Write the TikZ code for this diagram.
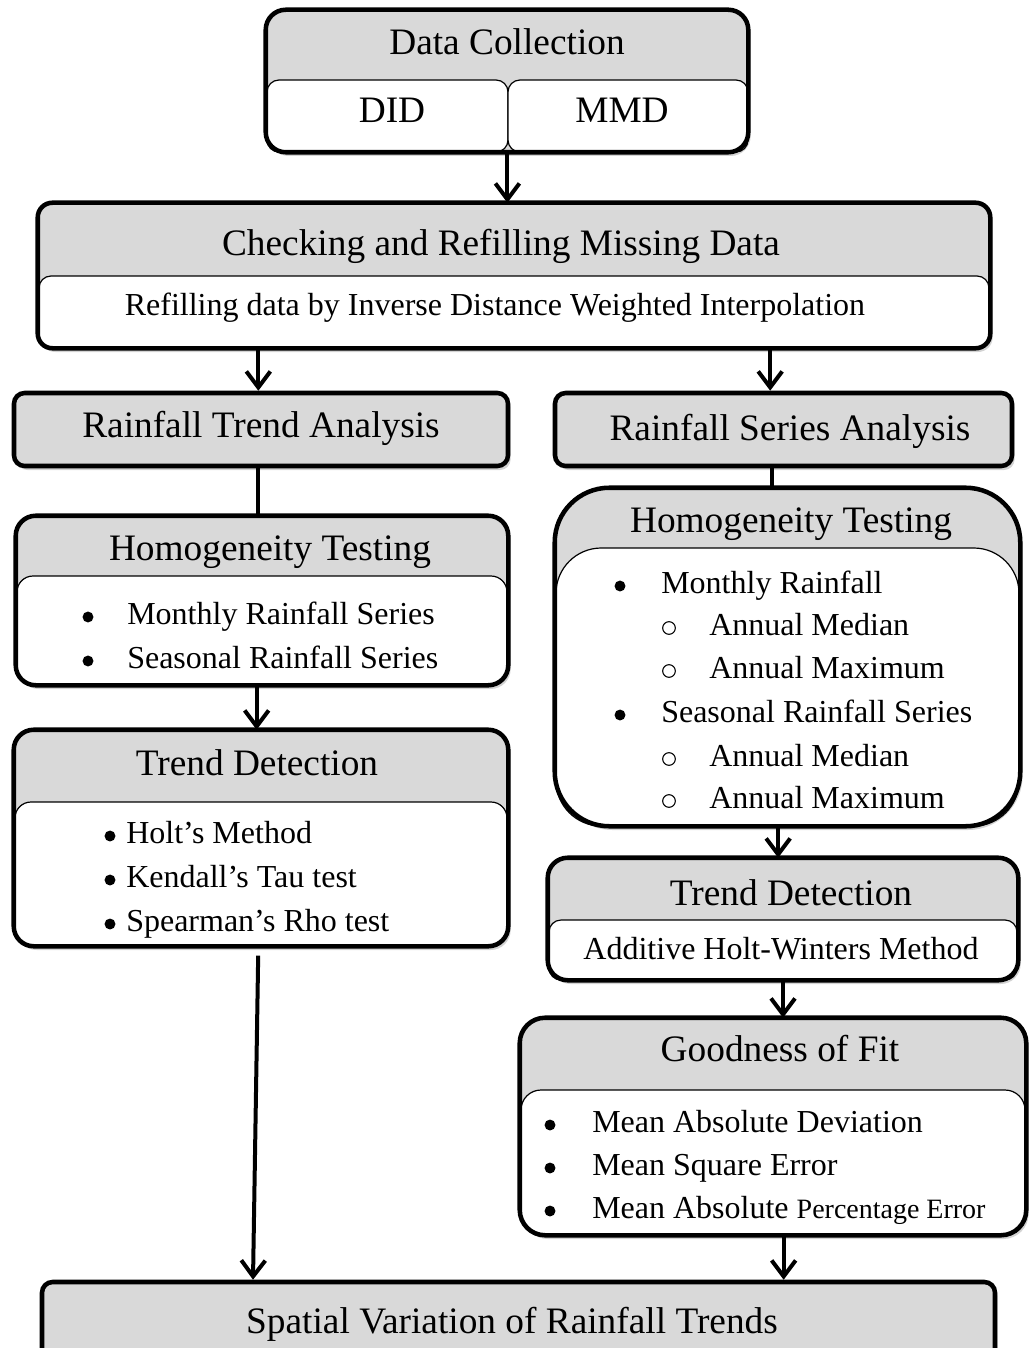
\documentclass[tikz,border=0pt]{standalone}
\usepackage{fontspec}
\setmainfont{Liberation Serif}
\setmonofont{Liberation Mono}
\usetikzlibrary{arrows.meta,fit,shadows}
\definecolor{boxgray}{RGB}{217,217,217}
\tikzset{
  panel/.style={fill=boxgray, inner sep=0pt, rounded corners=#1,
    drop shadow={opacity=0.35, shadow xshift=2pt, shadow yshift=-3pt}},
  panel/.default=15pt,
  sheet/.style={draw, fill=white, line width=0.9pt, inner sep=0pt, rounded corners=#1},
  sheet/.default=9pt,
  frame/.style={line width=3.4pt, rounded corners=#1},
  frame/.default=15pt,
  bar/.style={panel=8pt, draw, line width=3.4pt},
  head/.style={font=\fontsize{28}{32}\selectfont, inner sep=0pt, anchor=base},
  item/.style={font=\fontsize{24}{28}\selectfont, inner sep=0pt, anchor=base west},
  bul/.style={circle, fill, inner sep=0pt, minimum size=8.2pt},
  ring/.style={circle, draw, line width=0.8pt, inner sep=0pt, minimum width=9.5pt, minimum height=8.5pt},
  arr/.style={line width=3pt, -{Straight Barb[length=12pt,width=18pt]}},
  link/.style={line width=3pt},
}
\begin{document}
\begin{tikzpicture}[x=0.75pt,y=0.75pt,yscale=-1,xscale=1]
\useasboundingbox (0,0) rectangle (1032,1348);

%Shape: Data Collection
\node[panel, fit={(266,10) (748,152)}] (dc) {};
\node[sheet, fit={(267,80) (508,152)}] (did) {};
\node[sheet, fit={(508,80) (748,152)}] (mmd) {};
\draw[frame] (dc.north west) rectangle (dc.south east);
% Text Node
\node[head] (dct) at (507,55) {Data Collection};
\node[head] (didt) at (392,123) {DID};
\node[head] (mmdt) at (622,123) {MMD};

%Shape: Checking and Refilling
\node[panel=11pt, fit={(38,203) (990,348)}] (chk) {};
\node[sheet, fit={(39,276) (989,348)}] (chks) {};
\draw[frame=11pt] (chk.north west) rectangle (chk.south east);
% Text Node
\node[head] (chkt) at (501,256) {Checking and Refilling Missing Data};
\node[item, anchor=base] (chki) at (495,315) {Refilling data by Inverse Distance Weighted Interpolation};

%Shape: Analysis bars
\node[bar, fit={(14,393) (508,466)}] (rta) {};
\node[head] (rtat) at (261,437) {Rainfall Trend Analysis};
\node[bar, fit={(555,393) (1012,466)}] (rsa) {};
\node[head] (rsat) at (790,440) {Rainfall Series Analysis};

%Shape: Homogeneity Testing (left)
\node[panel, fit={(16,516) (508,685)}] (lht) {};
\node[sheet=12pt, fit={(17,576) (507,685)}] (lhts) {};
\draw[frame] (lht.north west) rectangle (lht.south east);
% Text Node
\node[head] (lhtt) at (270,560) {Homogeneity Testing};
\node[bul] (lhtb1) at (88,617) {};
\node[item] (lhti1) at (127,624) {Monthly Rainfall Series};
\node[bul] (lhtb2) at (88,661) {};
\node[item] (lhti2) at (127,668) {Seasonal Rainfall Series};

%Shape: Homogeneity Testing (right)
\node[panel=41pt, fit={(555,488) (1020,826)}] (rht) {};
\node[sheet=34pt, fit={(556,548) (1019,826)}] (rhts) {};
\draw[frame=41pt] (rht.north west) rectangle (rht.south east);
% Text Node
\node[head] (rhtt) at (791,532) {Homogeneity Testing};
\node[bul] (rhtb1) at (620,586) {};
\node[item] (rhti1) at (661,593) {Monthly Rainfall};
\node[bul] (rhtb2) at (620,715) {};
\node[item] (rhti2) at (661,722) {Seasonal Rainfall Series};
\foreach \y/\t [count=\i] in {635/Annual Median, 678/Annual Maximum, 766/Annual Median, 808/Annual Maximum}{
  \node[ring] (rhtr\i) at (669,\y-7) {};
  \node[item] (rhts\i) at (709,\y) {\t};
}

%Shape: Trend Detection (left)
\node[panel, fit={(14,730) (508,946)}] (ltd) {};
\node[sheet=12pt, fit={(15,802) (507,946)}] (ltds) {};
\draw[frame] (ltd.north west) rectangle (ltd.south east);
% Text Node
\node[head] (ltdt) at (257,775) {Trend Detection};
\foreach \y/\t [count=\i] in {843/Holt’s Method, 887/Kendall’s Tau test, 931/Spearman’s Rho test}{
  \node[bul] (ltdb\i) at (110,\y-7) {};
  \node[item] (ltdi\i) at (126,\y) {\t};
}

%Shape: Trend Detection (right)
\node[panel, fit={(548,858) (1018,980)}] (rtd) {};
\node[sheet, fit={(549,920) (1017,980)}] (rtds) {};
\draw[frame] (rtd.north west) rectangle (rtd.south east);
% Text Node
\node[head] (rtdt) at (791,905) {Trend Detection};
\node[item, anchor=base] (rtdi) at (781,959) {Additive Holt-Winters Method};

%Shape: Goodness of Fit
\node[panel=19pt, fit={(520,1018) (1026,1235)}] (gof) {};
\node[sheet=15pt, fit={(521,1090) (1025,1235)}] (gofs) {};
\draw[frame=19pt] (gof.north west) rectangle (gof.south east);
% Text Node
\node[head] (goft) at (780,1061) {Goodness of Fit};
\node[bul] (gofb1) at (550,1125) {};
\node[item] (gofi1) at (592,1132) {Mean Absolute Deviation};
\node[bul] (gofb2) at (550,1168) {};
\node[item] (gofi2) at (592,1175) {Mean Square Error};
\node[bul] (gofb3) at (550,1211) {};
\node[item] (gofi3) at (592,1218) {Mean Absolute {\fontsize{21}{24}\selectfont Percentage Error}};

%Shape: Spatial Variation
\node[bar, fit={(42,1282) (995,1380)}] (svr) {};
\node[head] (svrt) at (512,1333) {Spatial Variation of Rainfall Trends};

%Straight Lines
\draw[arr] (mmd.south west) -- (mmd.south west |- chk.north);
\draw[arr] ([xshift=-2pt]rta.north |- chk.south) -- ([xshift=-2pt]rta.north);
\draw[arr] ([xshift=-10pt]rsa.north |- chk.south) -- ([xshift=-10pt]rsa.north);
\draw[link] ([xshift=-2pt]rta.south) -- ([xshift=-2pt]rta.south |- lht.north);
\draw[link] ([xshift=-8.5pt]rsa.south) -- ([xshift=-8.5pt]rsa.south |- rht.north);
\draw[arr] ([xshift=-4pt]lht.south) -- ([xshift=-4pt]lht.south |- ltd.north);
\draw[arr] ([xshift=-7pt]rht.south) -- ([xshift=-7pt]rht.south |- rtd.north);
\draw[arr] (rtd.south) -- (rtd.south |- gof.north);
\draw[arr, shorten <=7pt] ([xshift=-2pt]ltd.south) -- ([xshift=-6pt]ltd.south |- svr.north);
\draw[arr] ([xshift=8pt]gof.south) -- ([xshift=8pt]gof.south |- svr.north);

\end{tikzpicture}
\end{document}
